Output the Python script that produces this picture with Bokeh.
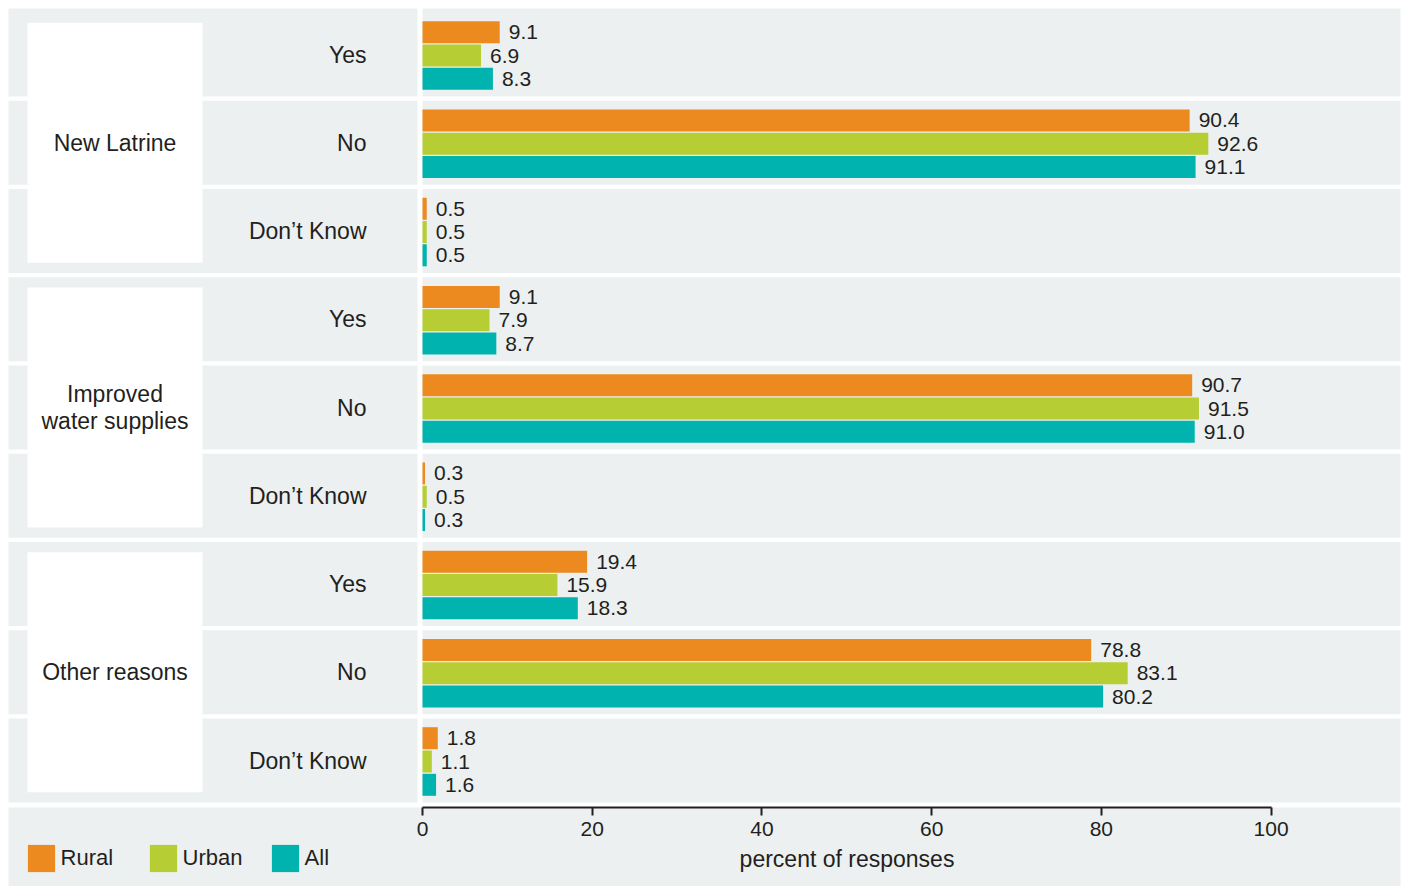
from bokeh.plotting import figure
from bokeh.models import (Range1d, LinearAxis, FixedTicker, Legend, LegendItem,
                          ColumnDataSource)
from bokeh.core.properties import value
from bokeh.embed import file_html
from bokeh.resources import INLINE

# ---------------- data ----------------
groups = ["New Latrine", "Improved\nwater supplies", "Other reasons"]
answers = ["Yes", "No", "Don’t Know"]
series = ["Rural", "Urban", "All"]
rural = [9.1, 90.4, 0.5, 9.1, 90.7, 0.3, 19.4, 78.8, 1.8]
urban = [6.9, 92.6, 0.5, 7.9, 91.5, 0.5, 15.9, 83.1, 1.1]
all_ = [8.3, 91.1, 0.5, 8.7, 91.0, 0.3, 18.3, 80.2, 1.6]
x_ticks = [0, 20, 40, 60, 80, 100]
x_title = "percent of responses"

# ---------------- styles / layout ----------------
colors = ["#ec8a1f", "#b7cd34", "#00b3af"]
GRAY = "#ecf0f1"
TXT = "#231f20"
FONT = "Liberation Sans"
W, H = 1405, 886
X0, PX = 422.0, 8.486          # pixel of value 0, pixels per percent


def dx(px):
    return (px - X0) / PX


ROW0, PITCH = 54.0, 88.25
BAR_STEP, BAR_H, BAR_SHIFT = 23.3, 22, 1.0
n_rows = len(groups) * len(answers)
centers = [ROW0 + PITCH * i for i in range(n_rows)]

p = figure(width=W, height=H, x_range=Range1d(dx(0), dx(W)), y_range=Range1d(H, 0),
           output_backend="svg", toolbar_location=None, x_axis_type=None, y_axis_type=None,
           min_border=0, outline_line_color=None, background_fill_color="white",
           border_fill_color="white")
p.grid.visible = False

# row bands
tops = [c - 42 for c in centers]
tops[0] = 8
bots = [c + 42 for c in centers]
p.quad(left=[dx(8)] * n_rows, right=[dx(417)] * n_rows, top=tops, bottom=bots,
       fill_color=GRAY, line_color=None)
p.quad(left=[dx(422)] * n_rows, right=[dx(1400)] * n_rows, top=tops, bottom=bots,
       fill_color=GRAY, line_color=None)
# bottom panel
p.quad(left=[dx(8)], right=[dx(1400)], top=[807], bottom=[886], fill_color=GRAY, line_color=None)

# white group boxes
gcent = [centers[3 * g + 1] for g in range(len(groups))]
p.quad(left=[dx(27)] * 3, right=[dx(202)] * 3, top=[c - 120 for c in gcent],
       bottom=[c + 120 for c in gcent], fill_color="white", line_color=None)

# group labels
p.text(x=[dx(114.5)] * 3, y=gcent, text=groups, text_align="center", text_baseline="middle",
       text_font=value(FONT), text_font_size="23px", text_color=TXT, text_line_height=1.05)

# answer labels
p.text(x=[dx(366)] * n_rows, y=centers, text=answers * len(groups), text_align="right",
       text_baseline="middle", text_font=value(FONT), text_font_size="23px", text_color=TXT)

# bars
renderers = []
for k, (name, vals, col) in enumerate(zip(series, [rural, urban, all_], colors)):
    ys = [c + (k - 1) * BAR_STEP + BAR_SHIFT for c in centers]
    src = ColumnDataSource(dict(y=ys, v=vals, lab=[f"{v:.1f}" for v in vals]))
    r = p.hbar(y="y", left=0, right="v", height=BAR_H, source=src, fill_color=col,
               line_color=None)
    renderers.append(r)
    p.text(x="v", y="y", text="lab", source=src, x_offset=9, text_align="left",
           text_baseline="middle", text_font=value(FONT), text_font_size="21px",
           text_color=TXT)

# axis
ax = LinearAxis(fixed_location=807, bounds=(0, 100), ticker=FixedTicker(ticks=x_ticks),
                axis_label=x_title, axis_line_width=2, axis_line_color=TXT,
                major_tick_line_color=TXT, major_tick_line_width=2, major_tick_out=8,
                major_tick_in=0, minor_tick_line_color=None, major_label_standoff=6,
                major_label_text_font=FONT, major_label_text_font_size="21px",
                major_label_text_color=TXT, axis_label_text_font=FONT,
                axis_label_text_font_size="23px", axis_label_text_font_style="normal",
                axis_label_text_color=TXT, axis_label_standoff=7)
p.add_layout(ax, "below")

legend = Legend(items=[LegendItem(label=s, renderers=[r]) for s, r in zip(series, renderers)],
                orientation="horizontal", location=(23.6, 10.6), glyph_width=34, glyph_height=34,
                label_standoff=3, label_width=85, spacing=0, padding=0, margin=0,
                border_line_color=None, background_fill_alpha=0,
                label_text_font=FONT, label_text_font_size="22px", label_text_color=TXT)
p.add_layout(legend)

open("out.html", "w").write(file_html(p, INLINE))
